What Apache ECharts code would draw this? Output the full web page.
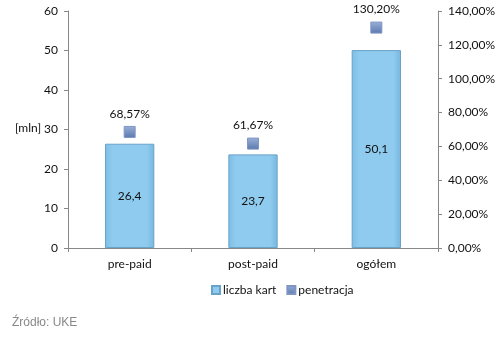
<!DOCTYPE html>
<html><head><meta charset="utf-8">
<script src="https://cdn.jsdelivr.net/npm/echarts@6/dist/echarts.min.js"></script>
<style>html,body{margin:0;padding:0;background:#fff}#c{width:500px;height:337px}</style>
</head><body><div id="c"></div>
<script>
const categories = ['pre-paid', 'post-paid', 'ogółem'];
const liczbaKart = [26.4, 23.7, 50.1];
const penetracja = [68.57, 61.67, 130.2];
const leftTicks = [0, 60, 10];
const rightTicks = [0, 140, 20];

const font = 'Lato, "Open Sans", sans-serif';
const fmt = (v, d) => v.toFixed(d).replace('.', ',');
const chart = echarts.init(document.getElementById('c'));
chart.setOption({
  animation: false,
  textStyle: { fontFamily: font },
  grid: { left: 68, right: 62, top: 11, bottom: 89 },
  legend: {
    left: 206, top: 279, itemWidth: 8, itemHeight: 8, itemGap: 10,
    textStyle: { fontFamily: font, fontSize: 12, color: '#111', padding: [0, 0, 0, -2] },
    data: [
      { name: 'liczba kart', icon: 'rect' },
      { name: 'penetracja', icon: 'rect' }
    ]
  },
  graphic: [
    { type: 'text', left: 12, top: 317, style: { text: 'Źródło: UKE', fill: '#888', font: '12px Arial, "Liberation Sans", sans-serif' } },
    { type: 'text', left: 15, top: 122, style: { text: '[mln]', fill: '#111', font: '12px ' + font } }
  ],
  xAxis: {
    type: 'category', data: categories,
    axisLine: { lineStyle: { color: '#888' } },
    axisTick: { show: true, length: 4, lineStyle: { color: '#888' } },
    axisLabel: { color: '#111', fontSize: 12, margin: 10, fontFamily: font }
  },
  yAxis: [
    {
      type: 'value', min: leftTicks[0], max: leftTicks[1], interval: leftTicks[2],
      axisLine: { show: true, lineStyle: { color: '#888' } },
      axisTick: { show: true, length: 4, lineStyle: { color: '#888' } },
      splitLine: { show: false },
      axisLabel: { color: '#111', fontSize: 12, margin: 10, fontFamily: font }
    },
    {
      type: 'value', min: rightTicks[0], max: rightTicks[1], interval: rightTicks[2],
      axisLine: { show: true, lineStyle: { color: '#888' } },
      axisTick: { show: true, length: 4, lineStyle: { color: '#888' } },
      splitLine: { show: false },
      axisLabel: { color: '#111', fontSize: 12, margin: 10, fontFamily: font, formatter: v => fmt(v, 2) + '%' }
    }
  ],
  series: [
    {
      name: 'liczba kart', type: 'bar', data: liczbaKart, barWidth: '40%', yAxisIndex: 0,
      itemStyle: {
        color: new echarts.graphic.LinearGradient(0, 0, 1, 0, [
          { offset: 0, color: '#7dbde6' }, { offset: 0.15, color: '#8ecbee' },
          { offset: 0.85, color: '#8ecbee' }, { offset: 1, color: '#78b6df' }
        ]),
        borderColor: '#6aa3c8', borderWidth: 1
      },
      label: { show: true, position: 'inside', color: '#111', fontSize: 12, fontFamily: font, formatter: p => fmt(p.value, 1) }
    },
    {
      name: 'penetracja', type: 'scatter', data: penetracja, yAxisIndex: 1,
      symbol: 'rect', symbolSize: 11,
      itemStyle: {
        opacity: 1,
        color: new echarts.graphic.LinearGradient(0, 0, 0, 1, [
          { offset: 0, color: '#9ab0d8' }, { offset: 1, color: '#5a78ae' }
        ]),
        borderColor: '#7f96c2', borderWidth: 1
      },
      label: { show: true, position: 'top', distance: 6, color: '#111', fontSize: 12, fontFamily: font, formatter: p => fmt(p.value, 2) + '%' }
    }
  ]
});
</script></body></html>
